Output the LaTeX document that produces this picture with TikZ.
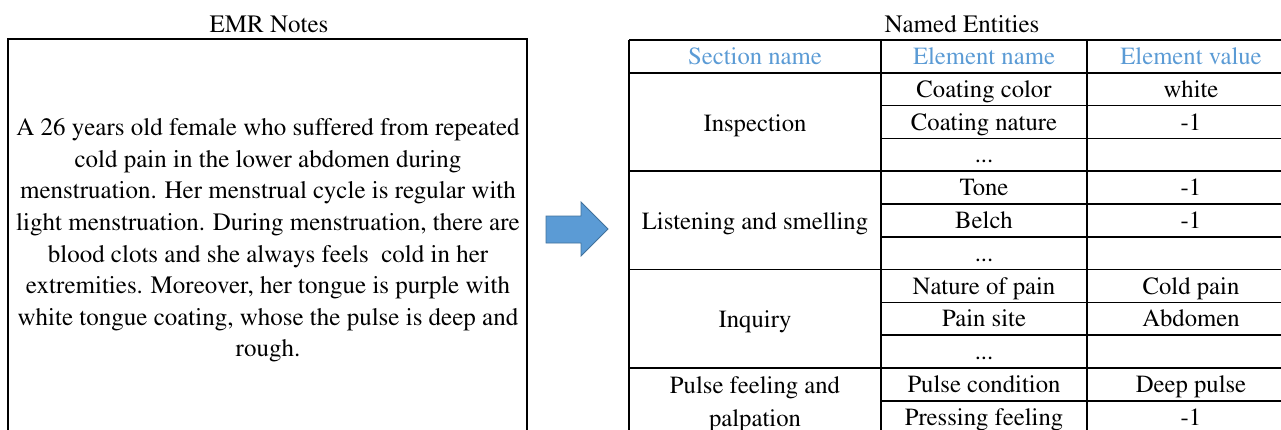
\documentclass[tikz,border=0pt]{standalone}
\usepackage[T1]{fontenc}
\renewcommand\rmdefault{ptm}
\newcommand\gapmark{...}
\begin{document}
\begin{tikzpicture}[x=1pt,y=-1pt,
  rule/.style={line width=1.6pt,black},
  cell/.style={inner sep=0pt,text height=16pt,text depth=0pt,font=\rmfamily\fontsize{24.7}{33}\selectfont,anchor=center},
  head/.style={cell,text=headblue},
  title/.style={cell,font=\rmfamily\fontsize{25}{30}\selectfont},
]
\definecolor{headblue}{HTML}{5B9BD5}
\definecolor{arrowfill}{HTML}{5B9BD5}
\definecolor{arrowedge}{HTML}{41719C}
\useasboundingbox (0,0) rectangle (1281,429);
\clip (0,0) rectangle (1281,429);

% left panel: the note text
\node[title] (emrtitle) at (269,24) {EMR Notes};
\draw[rule] (8,39) rectangle (527,445);
\node[inner sep=0pt,align=center,font=\rmfamily\fontsize{25}{31.6}\selectfont] (note) at (268,240.5)
  {A 26 years old female who suffered from repeated\\
   cold pain in the lower abdomen during\\
   menstruation. Her menstrual cycle is regular with\\
   light menstruation. During menstruation, there are\\
   blood clots and she always feels\ \ cold in her\\
   extremities. Moreover, her tongue is purple with\\
   white tongue coating, whose the pulse is deep and\\
   rough.};

% block arrow between the panels
\draw[fill=arrowfill,draw=arrowedge,line width=0.8pt]
  (546,216) -- (581,216) -- (581,202) -- (608,229) -- (581,256) -- (581,243) -- (546,243) -- cycle;

% right panel: the entity table
\node[title] (netitle) at (962,24) {Named Entities};

% vertical rules
\foreach \x in {629,881,1087}
  \draw[rule] (\x,40) -- (\x,445);
% rules across the whole table
\foreach \i in {0,1,4,7,10}
  \draw[rule] (629,{40+\i*32.8}) -- (1300,{40+\i*32.8});
% rules inside each section
\foreach \i in {2,3,5,6,8,9,11}
  \draw[rule] (881,{40+\i*32.8}) -- (1300,{40+\i*32.8});

% header
\node[head] (h1) at (755,56.4) {Section name};
\node[head] (h2) at (984,56.4) {Element name};
\node[head] (h3) at (1191,56.4) {Element value};

% section names
\node[cell] (s1) at (755,123) {Inspection};
\node[cell] (s2) at (755,221.2) {Listening and smelling};
\node[cell] (s3) at (755,319.8) {Inquiry};
\node[cell,text height=,text depth=,align=center] (s4) at (755,404.5) {Pulse feeling and\\palpation};

% element names and values, one row at a time
\foreach \i/\n/\v in {1/Coating color/white, 2/Coating nature/-1, 3/\gapmark/{},
                      4/Tone/-1, 5/Belch/-1, 6/\gapmark/{},
                      7/Nature of pain/Cold pain, 8/Pain site/Abdomen, 9/\gapmark/{},
                      10/Pulse condition/Deep pulse, 11/Pressing feeling/-1}{
  \node[cell] (n\i) at (984,{56.4+\i*32.8}) {\n};
  \node[cell] (v\i) at (1191,{56.4+\i*32.8}) {\v};
}
\end{tikzpicture}
\end{document}
